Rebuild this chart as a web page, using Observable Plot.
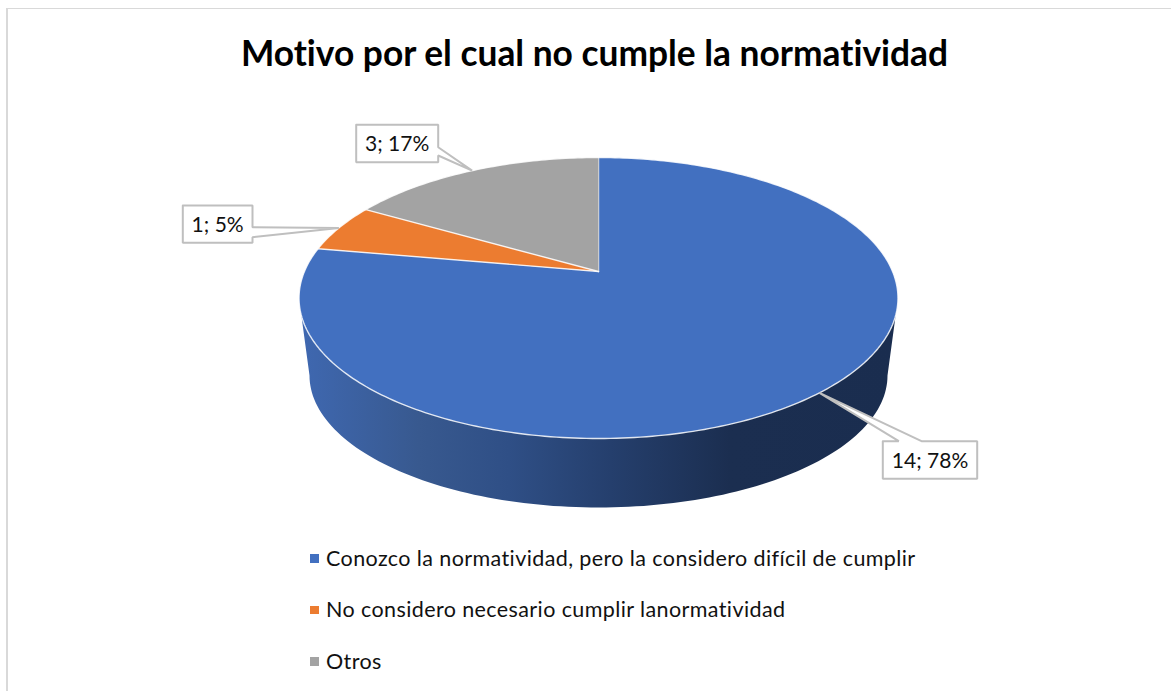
<!DOCTYPE html>
<html lang="es">
<head>
<meta charset="utf-8">
<script src="https://cdn.jsdelivr.net/npm/d3@7"></script>
<script src="https://cdn.jsdelivr.net/npm/@observablehq/plot@0.6"></script>
<style>
  html, body { margin: 0; padding: 0; background: #fff; overflow: hidden; width: 1171px; height: 691px; font-variant-ligatures: none; }
  #frame { position: absolute; left: 6px; top: 8px; right: 0; bottom: 0; border-left: 2px solid #d9d9d9; border-top: 1.5px solid #d9d9d9; }
  #title { position: absolute; left: 0; top: 30px; width: 1189px; margin: 0; text-align: center; font: 700 35.35px/46px Lato, sans-serif; color: #000; font-variant-ligatures: none; }
  #chart { position: absolute; left: 0; top: 110px; }
  #chart svg { display: block; font-variant-ligatures: none; }
  #legend { position: absolute; left: 310px; top: 532.5px; margin: 0; padding: 0; list-style: none; font: 400 21.5px/51.5px Lato, sans-serif; letter-spacing: 0.4px; color: #111; white-space: nowrap; font-variant-ligatures: none; }
  #legend li { display: flex; align-items: center; }
  #legend i { display: block; width: 8.5px; height: 8.5px; margin-right: 7.5px; }
</style>
</head>
<body>
<div id="frame"></div>
<h1 id="title"></h1>
<div id="chart"></div>
<ul id="legend"></ul>
<script>
const titleText = "Motivo por el cual no cumple la normatividad";
const categories = [
  "Conozco la normatividad, pero la considero difícil de cumplir",
  "No considero necesario cumplir lanormatividad",
  "Otros"
];
const counts = [14, 1, 3];
const labels = ["14; 78%", "1; 5%", "3; 17%"];
const colors = ["#4270c0", "#ec7c30", "#a3a3a3"];

// Disc seen in perspective: the apex sits above the centre of the ellipse.
const persp = {h: 294.1, v: 135.5, c: 0.1886};
const project = a => {
  const k = 1 + persp.c * Math.cos(a);
  return [persp.h * Math.sin(a) / k, persp.v * Math.cos(a) / k];
};
const rim = {topX: 299.5, topY: -26.5, botX: 289, botY: -104, botR: 132};

const arcs = d3.pie().sort(null).value(d => d)(counts);

const sectorRows = arcs.flatMap((arc, i) => {
  const n = Math.ceil((arc.endAngle - arc.startAngle) * 60);
  const pts = [[0, 0], ...d3.range(n + 1).map(j =>
    project(arc.startAngle + (arc.endAngle - arc.startAngle) * j / n))];
  return pts.map(([x, y]) => ({x, y, category: categories[i]}));
});

const sideRows = [
  {x: -rim.topX, y: rim.topY},
  ...d3.range(121).map(j => {
    const t = Math.PI * j / 120;
    return {x: -rim.botX * Math.cos(t), y: rim.botY - rim.botR * Math.sin(t)};
  }),
  {x: rim.topX, y: rim.topY}
];

// Callout boxes, in the plot's units (origin at the apex, y upwards)
const boxes = [
  {left: 284.3, top: -169.7, w: 94.4, h: 37.6, side: "top", p: [16, 38.7]},
  {left: -415.7, top: 66, w: 69.7, h: 37.3, side: "right", p: [21.7, 31.7]},
  {left: -242.3, top: 146.7, w: 82, h: 37.4, side: "right", p: [22.4, 30.7]}
];
const calloutRows = boxes.flatMap((b, i) => {
  const mid = (arcs[i].startAngle + arcs[i].endAngle) / 2;
  const tip = project(mid);
  const {left: l, top: t, w, h} = b;
  const pts = b.side === "top"
    ? [[l, t], [l + b.p[0], t], tip, [l + b.p[1], t], [l + w, t], [l + w, t - h], [l, t - h], [l, t]]
    : [[l, t], [l + w, t], [l + w, t - b.p[0]], tip, [l + w, t - b.p[1]], [l + w, t - h], [l, t - h], [l, t]];
  return pts.map(([x, y]) => ({x, y, id: labels[i]}));
});
const labelRows = boxes.map((b, i) => ({x: b.left + b.w / 2, y: b.top - b.h / 2 - 1, text: labels[i]}));

const sideGradient = () => {
  const svgNS = "http://www.w3.org/2000/svg";
  const defs = document.createElementNS(svgNS, "defs");
  const g = document.createElementNS(svgNS, "linearGradient");
  g.setAttribute("id", "sideShade");
  [[0, "#3f68b1"], [0.2, "#38598f"], [0.35, "#2f4f86"], [0.52, "#253f6d"], [0.72, "#1b2e50"], [1, "#1a2d4f"]]
    .forEach(([o, c]) => {
      const s = document.createElementNS(svgNS, "stop");
      s.setAttribute("offset", o);
      s.setAttribute("stop-color", c);
      g.appendChild(s);
    });
  defs.appendChild(g);
  return defs;
};

const plot = Plot.plot({
  width: 1171,
  height: 400,
  margin: 0,
  x: {domain: [-598, 573], range: [0, 1171], axis: null},
  y: {domain: [-239, 161], range: [400, 0], axis: null},
  color: {domain: categories, range: colors},
  marks: [
    sideGradient,
    Plot.line(sideRows, {x: "x", y: "y", fill: "url(#sideShade)", stroke: "none"}),
    Plot.line(sectorRows, {x: "x", y: "y", z: "category", fill: "category", stroke: "#fff", strokeWidth: 1.4, strokeOpacity: 0.85, strokeLinejoin: "round"}),
    Plot.line(calloutRows, {x: "x", y: "y", z: "id", fill: "#fff", stroke: "#bfbfbf", strokeWidth: 2, strokeLinejoin: "miter"}),
    Plot.text(labelRows, {x: "x", y: "y", text: "text", fontFamily: "Lato, sans-serif", fontSize: 21, fill: "#111"})
  ]
});
document.getElementById("chart").appendChild(plot);
document.getElementById("title").textContent = titleText;

const legend = d3.select("#legend");
categories.forEach((c, i) => {
  const li = legend.append("li");
  li.append("i").style("background", colors[i]);
  li.append("span").text(c);
});
</script>
</body>
</html>
